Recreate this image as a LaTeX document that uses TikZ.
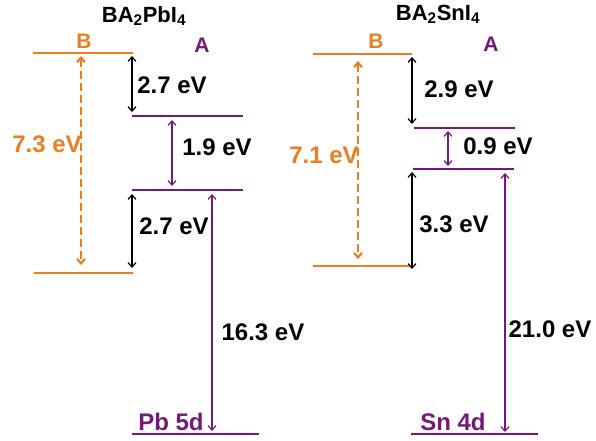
\documentclass[tikz,border=0pt]{standalone}
\usepackage{fontspec}
\setmainfont{Liberation Sans}
\usetikzlibrary{arrows.meta}
\definecolor{lvlorange}{RGB}{233,127,32}
\definecolor{lvlpurple}{RGB}{118,24,122}
\tikzset{
  lvlO/.style={draw=lvlorange,line width=2.6pt},
  lvlP/.style={draw=lvlpurple,line width=2pt},
  gap/.style={line width=1.2pt,{Straight Barb[length=4.5pt,width=8pt]}-{Straight Barb[length=4.5pt,width=8pt]}},
  gapB/.style={gap,draw=black},
  gapP/.style={gap,draw=lvlpurple},
  dgap/.style={draw=lvlorange,line width=2.2pt,dash pattern=on 8pt off 4pt,{Straight Barb[length=4.5pt,width=8pt]}-{Straight Barb[length=4.5pt,width=8pt]}},
  lab/.style={font=\bfseries\fontsize{24}{24}\selectfont,anchor=base,inner sep=0pt},
  ttl/.style={font=\bfseries\fontsize{22}{22}\selectfont,anchor=base,inner sep=0pt},
  ab/.style={font=\bfseries\fontsize{21}{21}\selectfont,anchor=base,inner sep=0pt},
}
\begin{document}
\begin{tikzpicture}[x=1pt,y=-1pt]
\useasboundingbox (0,0) rectangle (596,440);
% ---------- left: BA2PbI4 ----------
\node[ttl] (tL) at (144,22) {BA$_\mathbf{2}$PbI$_\mathbf{4}$};
\node[ab,text=lvlorange] (bL) at (84,48) {B};
\node[ab,text=lvlpurple] (aL) at (202,52) {A};
\coordinate (LOt1) at (33,53);  \coordinate (LOt2) at (133,53);
\coordinate (LP1a) at (132,116); \coordinate (LP1b) at (243,116);
\coordinate (LP2a) at (132,190); \coordinate (LP2b) at (243,190);
\coordinate (LOb1) at (34,273); \coordinate (LOb2) at (133,273);
\coordinate (LD1) at (132,434); \coordinate (LD2) at (259,434);
\draw[lvlO] (LOt1) -- (LOt2);
\draw[lvlO] (LOb1) -- (LOb2);
\draw[lvlP] (LP1a) -- (LP1b);
\draw[lvlP] (LP2a) -- (LP2b);
\draw[lvlP] (LD1) -- (LD2);
\coordinate (la1) at (132,56);  \coordinate (la2) at (132,112);
\coordinate (lb1) at (172,120); \coordinate (lb2) at (172,186);
\coordinate (lc1) at (132,194); \coordinate (lc2) at (132,268);
\coordinate (ld1) at (81,56);   \coordinate (ld2) at (81,265);
\coordinate (le1) at (212,194); \coordinate (le2) at (212,431);
\draw[gapB] (la1) -- (la2);
\draw[gapP] (lb1) -- (lb2);
\draw[gapB] (lc1) -- (lc2);
\draw[dgap] (ld1) -- (ld2);
\draw[gapP] (le1) -- (le2);
\node[lab] (l27a) at (172,93) {2.7 eV};
\node[lab,text=lvlorange] (l73) at (47,152) {7.3 eV};
\node[lab] (l19) at (217,155) {1.9 eV};
\node[lab] (l27b) at (174,234) {2.7 eV};
\node[lab] (l163) at (263,340) {16.3 eV};
\node[lab,text=lvlpurple] (lpb) at (171,430) {Pb 5d};
% ---------- right: BA2SnI4 ----------
\node[ttl] (tR) at (438,20) {BA$_\mathbf{2}$SnI$_\mathbf{4}$};
\node[ab,text=lvlorange] (bR) at (376,48) {B};
\node[ab,text=lvlpurple] (aR) at (491,51) {A};
\coordinate (ROt1) at (313,54);  \coordinate (ROt2) at (412,54);
\coordinate (RP1a) at (414,128); \coordinate (RP1b) at (515,128);
\coordinate (RP2a) at (413,169); \coordinate (RP2b) at (514,169);
\coordinate (ROb1) at (313,266); \coordinate (ROb2) at (411,266);
\coordinate (RD1) at (411,434);  \coordinate (RD2) at (538,434);
\draw[lvlO] (ROt1) -- (ROt2);
\draw[lvlO] (ROb1) -- (ROb2);
\draw[lvlP] (RP1a) -- (RP1b);
\draw[lvlP] (RP2a) -- (RP2b);
\draw[lvlP] (RD1) -- (RD2);
\coordinate (ra1) at (412,57);  \coordinate (ra2) at (412,124);
\coordinate (rb1) at (448,131); \coordinate (rb2) at (448,166);
\coordinate (rc1) at (412,172); \coordinate (rc2) at (412,269);
\coordinate (rd1) at (358,61);  \coordinate (rd2) at (358,259);
\coordinate (re1) at (505,173); \coordinate (re2) at (505,432);
\draw[gapB] (ra1) -- (ra2);
\draw[gapP] (rb1) -- (rb2);
\draw[gapB] (rc1) -- (rc2);
\draw[dgap] (rd1) -- (rd2);
\draw[gapP] (re1) -- (re2);
\node[lab] (r29) at (459,97) {2.9 eV};
\node[lab,text=lvlorange] (r71) at (324,163) {7.1 eV};
\node[lab] (r09) at (498,154) {0.9 eV};
\node[lab] (r33) at (454,232) {3.3 eV};
\node[lab] (r210) at (550,337) {21.0 eV};
\node[lab,text=lvlpurple] (rsn) at (453,430) {Sn 4d};
\end{tikzpicture}
\end{document}
